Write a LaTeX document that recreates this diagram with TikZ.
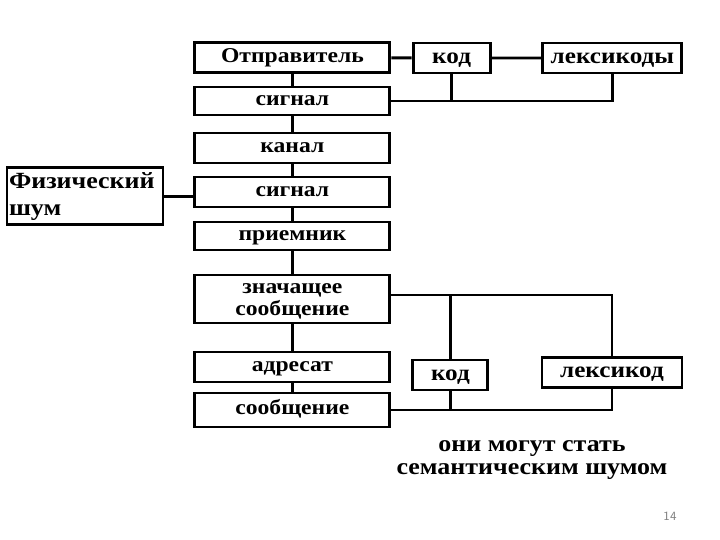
\documentclass[tikz,border=0pt]{standalone}
\usepackage{fontspec}
\setmainfont{Liberation Serif}[FakeStretch=1.12]
\usepackage{tikz}
\usetikzlibrary{positioning}
\tikzset{
  box/.style={draw, line width=2.1pt, minimum width=4.875cm, minimum height=0.75cm, inner sep=1pt, text height=8.7pt, text depth=1.9pt, font=\fontsize{15}{15}\selectfont\bfseries},
  side/.style={box, text height=9.5pt, text depth=2.1pt, font=\fontsize{16}{17}\selectfont\bfseries},
  link/.style={line width=2.1pt},
  note/.style={align=center, font=\fontsize{16.5}{17}\selectfont\bfseries},
}

\begin{document}
\begin{tikzpicture}
\useasboundingbox (0,0) rectangle (18,-13.5);

\node[box] (sender) at (7.31,-1.44) {Отправитель};
\node[box, minimum height=0.7cm] (sig1) at (7.31,-2.525) {сигнал};
\node[box] (chan) at (7.31,-3.7) {канал};
\node[box] (sig2) at (7.31,-4.8) {сигнал};
\node[box, minimum height=0.7cm] (recv) at (7.31,-5.9) {приемник};
\node[box, minimum height=1.2cm] (meaning) at (7.31,-7.475) {};
\node[align=center, font=\fontsize{15}{15.5}\selectfont\bfseries] (meaningtext) at ([yshift=-0.05cm]meaning.center) {значащее\\сообщение};
\node[box] (addr) at (7.31,-9.175) {адресат};
\node[box, minimum height=0.85cm] (msg) at (7.31,-10.25) {сообщение};

\node[draw, line width=2.1pt, minimum width=3.9cm, minimum height=1.425cm, text width=3.8cm, align=left, inner sep=1pt, font=\fontsize{16.5}{19}\selectfont\bfseries] (noise) at (2.125,-4.91) {Физический\\шум};

\node[side, minimum width=1.925cm] (codeA) at (11.29,-1.45) {код};
\node[side, minimum width=3.475cm] (lexA) at (15.31,-1.45) {лексикоды};

\node[side, minimum width=1.875cm] (codeB) at (11.26,-9.375) {код};
\node[side, minimum width=3.5cm] (lexB) at (15.3,-9.31) {лексикод};

\node[note] (remark) at (13.3,-11.5) {они могут стать\\семантическим шумом};
\node[font=\sffamily\fontsize{9}{10}\selectfont, text=gray] (page) at (16.75,-12.9) {14};

\draw[link] (sender) -- (sig1) -- (chan) -- (sig2) -- (recv) -- (meaning) -- (addr) -- (msg);

\draw[link] (sender) -- (codeA) -- (lexA);
\draw[link] (sig1.east) -- (sig1.east -| lexA.south) -- (lexA.south);
\draw[link] (codeA.south) -- (codeA.south |- sig1.east);

\draw[link] (noise.east) -- (noise.east -| sig2.west);

\coordinate (fork) at ([yshift=0.1cm]meaning.east);
\draw[link] (fork) -- (fork -| lexB.north) -- (lexB.north);
\draw[link] (codeB.north) -- (codeB.north |- fork);
\draw[link] (msg.east) -- (msg.east -| lexB.south) -- (lexB.south);
\draw[link] (codeB.south) -- (codeB.south |- msg.east);

\end{tikzpicture}
\end{document}
